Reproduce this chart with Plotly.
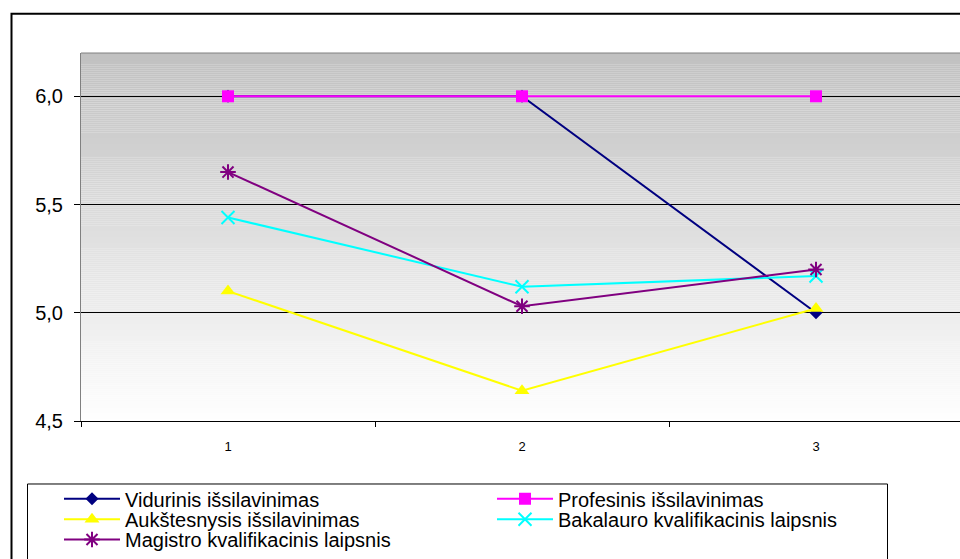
import plotly.graph_objects as go

# Survey scores by education level for three questions
categories = ["1", "2", "3"]
vidurinis = [6.0, 6.0, 5.0]
profesinis = [6.0, 6.0, 6.0]
aukstesnysis = [5.10, 4.64, 5.02]
bakalauro = [5.44, 5.12, 5.17]
magistro = [5.65, 5.03, 5.20]
y_ticks = [4.5, 5.0, 5.5, 6.0]

series_names = [
    "Vidurinis išsilavinimas",
    "Profesinis išsilavinimas",
    "Aukštesnysis išsilavinimas",
    "Bakalauro kvalifikacinis laipsnis",
    "Magistro kvalifikacinis laipsnis",
]
series_values = [vidurinis, profesinis, aukstesnysis, bakalauro, magistro]

W, H = 960, 559
L, R, T, B = 81, 0, 53, 135
PW, PH = W - L - R, H - T - B
Y_RANGE = [4.5, 6.2]
CAT_STEP = 294  # pixel width of one category slot

FONT = "Liberation Sans, Arial, sans-serif"


def px_x(px):
    return (px - L) / PW


def px_y(py):
    return (H - B - py) / PH


styles = [
    dict(color="#000080", symbol="diamond", size=10, lw=0),
    dict(color="#FF00FF", symbol="square", size=12, lw=0),
    dict(color="#FFFF00", symbol="triangle-up", size=13, lw=0),
    dict(color="#00FFFF", symbol="x-thin-open", size=13, lw=2),
    dict(color="#800080", symbol="asterisk-open", size=13, lw=2),
]

# legend slots: (left px of sample line, centre px of row)
legend_slots = [(64, 502.5), (497, 502.5), (64, 523), (497, 523), (64, 544)]
legend_ids = ["legend", "legend2", "legend3", "legend4", "legend5"]

fig = go.Figure()
for name, vals, st, lid in zip(series_names, series_values, styles, legend_ids):
    fig.add_trace(go.Scatter(
        x=categories, y=vals, name=name, mode="lines+markers",
        line=dict(color=st["color"], width=2),
        marker=dict(symbol=st["symbol"], size=st["size"], color=st["color"],
                    line=dict(color=st["color"], width=st["lw"])),
        legend=lid,
    ))

# grey-to-white vertical gradient behind the plot area
shapes = []
N = 186
top_rgb, bot_rgb = (192, 192, 192), (255, 255, 255)
for i in range(N):
    f = (i + 0.5) / N
    c = tuple(round(bot_rgb[k] + (top_rgb[k] - bot_rgb[k]) * f) for k in range(3))
    shapes.append(dict(type="rect", xref="x domain", yref="y domain",
                       x0=0, x1=1, y0=i / N, y1=(i + 1) / N,
                       fillcolor="rgb(%d,%d,%d)" % c, line=dict(width=0),
                       layer="below"))
# plot area frame (top edge)
shapes.append(dict(type="line", xref="x domain", yref="y domain",
                   x0=0, x1=1, y0=1, y1=1, line=dict(color="#808080", width=1)))
# outer chart frame
shapes.append(dict(type="rect", xref="paper", yref="paper",
                   x0=px_x(11.5), x1=px_x(975), y0=px_y(575), y1=px_y(13.5),
                   line=dict(color="black", width=2), fillcolor="rgba(0,0,0,0)",
                   layer="above"))
# legend frame
shapes.append(dict(type="rect", xref="paper", yref="paper",
                   x0=px_x(27.5), x1=px_x(887.5), y0=px_y(575), y1=px_y(487.5),
                   line=dict(color="black", width=1), fillcolor="white",
                   layer="below"))

legends = {}
for lid, (lx, ly) in zip(legend_ids, legend_slots):
    legends[lid] = dict(
        x=px_x(lx - 5), y=px_y(ly), xanchor="left", yanchor="middle",
        xref="paper", yref="paper",
        bgcolor="rgba(0,0,0,0)", borderwidth=0, itemwidth=56,
        font=dict(family=FONT, size=20, color="black"),
        itemclick=False, itemdoubleclick=False,
    )

fig.update_layout(
    width=W, height=H,
    margin=dict(l=L, r=R, t=T, b=B, pad=0),
    paper_bgcolor="white", plot_bgcolor="white",
    separators=", ",
    showlegend=True,
    shapes=shapes,
    xaxis=dict(
        type="category", categoryorder="array", categoryarray=categories,
        range=[-0.5, -0.5 + PW / CAT_STEP],
        tickson="boundaries", ticks="outside", ticklen=5, tickcolor="black",
        ticklabelstandoff=13,
        showgrid=False, showline=True, linecolor="black", linewidth=1,
        tickfont=dict(family=FONT, size=13, color="black"),
        zeroline=False, fixedrange=True,
    ),
    yaxis=dict(
        range=Y_RANGE, tickmode="array", tickvals=y_ticks, tickformat=".1f",
        ticks="outside", ticklen=6, tickcolor="black", ticklabelstandoff=7,
        showgrid=True, gridcolor="black", gridwidth=1,
        showline=True, linecolor="#808080", linewidth=1,
        tickfont=dict(family=FONT, size=20, color="black"),
        zeroline=False, fixedrange=True,
    ),
    **legends,
)

fig.write_html("out.html", config=dict(displayModeBar=False))
